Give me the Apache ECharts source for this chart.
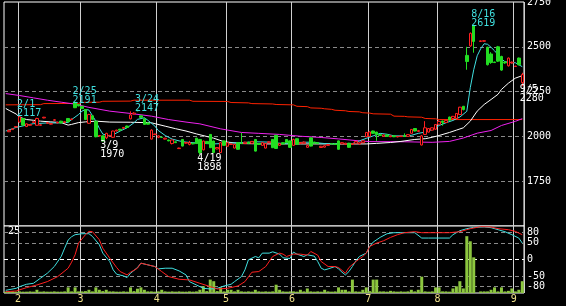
<!DOCTYPE html>
<html><head><meta charset="utf-8">
<script src="https://cdn.jsdelivr.net/npm/echarts@6/dist/echarts.min.js"></script>
<style>html,body{margin:0;padding:0;background:#000;}#c{width:566px;height:306px;}</style>
</head><body><div id="c"></div>
<script>
// ---------- DATA ----------
const dates = [
'1/26','1/27','1/28','1/31',
'2/1','2/2','2/3','2/4','2/7','2/8','2/9','2/10','2/14','2/15','2/16','2/17','2/18','2/21','2/22','2/24','2/25','2/28',
'3/1','3/2','3/3','3/4','3/7','3/8','3/9','3/10','3/11','3/14','3/15','3/16','3/17','3/18','3/22','3/23','3/24','3/25','3/28','3/29','3/30','3/31',
'4/1','4/4','4/5','4/6','4/7','4/8','4/11','4/12','4/13','4/14','4/15','4/18','4/19','4/20','4/21','4/22','4/25','4/26','4/27','4/28',
'5/2','5/6','5/9','5/10','5/11','5/12','5/13','5/16','5/17','5/18','5/19','5/20','5/23','5/24','5/25','5/26','5/27','5/30','5/31',
'6/1','6/2','6/3','6/6','6/7','6/8','6/9','6/10','6/13','6/14','6/15','6/16','6/17','6/20','6/21','6/22','6/23','6/24','6/27','6/28','6/29','6/30',
'7/1','7/4','7/5','7/6','7/7','7/8','7/11','7/12','7/13','7/14','7/15','7/19','7/20','7/21','7/22','7/25','7/26','7/27','7/28','7/29',
'8/1','8/2','8/3','8/4','8/5','8/8','8/9','8/10','8/12','8/15','8/16','8/17','8/18','8/19','8/22','8/23','8/24','8/25','8/26','8/29','8/30','8/31',
'9/1','9/2','9/5'];

// [open, close, low, high]
const candles = [
// Jan
['-','-','-','-'],[2026,2034,2024,2037],[2038,2042,2036,2044],[2052,2055,2050,2057],
// Feb
[2080,2110,2078,2117],[2100,2063,2060,2102],[2055,2070,2052,2072],[2062,2066,2060,2068],[2078,2082,2076,2084],[2062,2100,2060,2104],[2062,2065,2060,2067],[2103,2107,2101,2109],[2073,2077,2071,2079],[2068,2072,2066,2074],[2090,2093,2087,2097],[2075,2079,2073,2081],[2085,2075,2073,2087],[2078,2082,2076,2084],[2100,2082,2080,2102],[2094,2097,2090,2100],[2190,2160,2158,2191],[2178,2170,2168,2180],
// Mar
[2168,2155,2153,2170],[2150,2094,2092,2152],[2073,2122,2070,2126],[2115,2095,2093,2117],[2085,1998,1995,2088],[2002,2005,2000,2007],[2003,1975,1970,2005],[1992,2017,1985,2020],[2003,2006,2001,2008],[1995,2030,1992,2032],[2030,2035,2028,2037],[2040,2035,2033,2042],[2045,2050,2043,2052],[2058,2050,2048,2060],[2098,2120,2095,2140],[2125,2130,2123,2135],[2146,2143,2140,2147],[2115,2105,2103,2117],[2098,2067,2065,2100],[2075,2068,2066,2077],[1985,2035,1983,2040],[2010,2013,2008,2015],
// Apr
[1995,2003,1990,2006],[1996,1994,1992,1998],[1985,1990,1983,1992],[1980,1975,1973,1982],[1960,1980,1955,1982],[1970,1965,1963,1972],[1932,1935,1930,1937],[1983,1946,1944,1985],[1962,1966,1960,1968],[1955,1965,1950,1975],[1962,1958,1956,1964],[1990,1960,1958,1992],[1983,1910,1898,1985],[1925,1974,1922,1976],[1972,1960,1958,1974],[2011,1937,1935,2013],[1974,1910,1908,1976],[1930,1938,1928,1940],[1910,1965,1908,1967],[1975,1950,1948,1977],
// May
[1945,1965,1943,1967],[1955,1958,1953,1960],[1935,1955,1933,1957],[1965,1928,1926,1967],[1962,1960,1958,2020],[1960,1968,1958,1970],[1968,1960,1958,1970],[1962,1972,1960,1974],[1983,1918,1916,1985],[1960,1955,1953,1962],[1950,1965,1948,1967],[1935,1960,1933,1962],[1965,1970,1963,1972],[1983,1937,1935,1985],[2006,1933,1930,2008],[1950,1960,1948,1962],[1965,1958,1956,1967],[1983,1965,1963,1985],[1975,1939,1937,1977],
// Jun
[1950,1983,1948,1987],[1987,1956,1954,1989],[1960,1966,1958,1968],[1962,1968,1958,1972],[1939,1950,1937,1952],[1992,1946,1944,1994],[1968,1962,1960,1970],[1965,1960,1958,1967],[1938,1945,1936,1947],[1940,1948,1938,1950],[1950,1955,1948,1957],[1960,1958,1956,1962],[1958,1955,1953,1960],[1975,1928,1926,1977],[1958,1965,1956,1967],[1955,1962,1953,1964],[1962,1939,1937,1964],[1955,1960,1953,1962],[1962,1972,1960,1974],[1958,1965,1956,1967],[1965,1975,1963,1977],[1998,2022,1996,2024],
// Jul
[2000,2025,1998,2027],[2030,2017,2015,2032],[2024,2011,1975,2026],[2010,2005,2003,2012],[2000,2008,1998,2010],[2008,2000,1998,2010],[1998,2003,1996,2005],[2003,1998,1996,2005],[1997,2000,1995,2002],[1999,2002,1997,2004],[2003,2000,1998,2017],[2000,2010,1998,2012],[2017,2039,2015,2041],[2044,2030,2028,2046],[2028,2032,2026,2036],[1952,2003,1950,2008],[2011,2048,2009,2085],[2024,2044,2022,2046],[2035,2048,2033,2050],[2040,2066,2038,2068],
// Aug
[2068,2084,2066,2090],[2086,2078,2060,2088],[2078,2089,2076,2091],[2108,2090,2088,2110],[2100,2112,2098,2114],[2100,2128,2098,2130],[2122,2163,2120,2165],[2168,2150,2145,2170],[2452,2418,2372,2500],[2505,2575,2500,2580],[2619,2530,2467,2619],['-','-','-','-'],[2530,2533,2528,2535],[2531,2534,2529,2536],[2498,2400,2396,2500],[2460,2412,2405,2470],[2415,2412,2410,2417],[2500,2420,2415,2505],[2446,2370,2366,2450],[2415,2410,2405,2418],[2394,2437,2390,2440],[2410,2414,2406,2418],
// Sep
[2390,2392,2388,2394],[2437,2400,2396,2440],[2300,2345,2280,2355]
];

const volume = [
0.5,0.5,0.6,0.5,
0.6,0.5,0.5,0.6,0.5,1.2,0.5,0.6,0.5,0.5,0.6,0.5,0.5,0.6,2.1,0.6,2.1,0.6,
0.6,0.7,1.2,0.6,2.1,1.2,0.7,1.2,0.6,0.6,0.5,0.5,0.6,0.5,2.1,0.7,1.6,2.1,1.2,0.6,0.6,0.5,
0.6,1.2,0.6,0.5,0.6,0.5,0.6,0.5,0.5,0.6,0.5,0.6,1.2,2.5,0.7,5.0,4.4,0.7,2.1,0.6,
1.2,1.2,0.6,1.2,0.6,0.5,0.6,0.5,1.2,0.6,0.5,0.6,0.5,0.6,3.1,1.2,0.6,0.5,0.6,
0.6,0.5,1.2,0.6,1.7,0.6,0.5,0.6,0.5,1.2,0.6,0.5,0.6,2.1,1.2,1.2,0.6,5.0,0.6,0.5,1.2,2.1,
0.7,5.0,5.0,0.6,0.6,0.5,0.8,0.6,0.5,0.6,0.5,0.6,1.2,0.6,1.2,6.1,0.6,0.5,0.6,2.1,
2.1,0.6,0.6,0.5,1.7,2.5,4.4,1.7,21.2,19.3,13.3,0,0.6,0.6,0.6,1.2,2.1,0.6,2.1,0.6,0.8,1.7,
0.6,1.2,4.4
];

// moving averages: [dayIndex, price]
const maCyan = [[0,2030],[3,2050],[6,2063],[8,2071],[12,2075],[15,2075],[18,2078],[19,2094],[21,2122],[22,2141],[23,2150],[24,2147],[25,2116],[26,2085],[27,2045],[28,2013],[30,2002],[31,2009],[33,2030],[35,2048],[37,2076],[38,2095],[40,2104],[41,2090],[43,2058],[44,2033],[46,2005],[48,1985],[50,1975],[52,1968],[56,1962],[60,1958],[64,1962],[68,1965],[72,1970],[76,1968],[80,1960],[84,1966],[88,1968],[92,1960],[96,1958],[100,1960],[102,1975],[104,1989],[106,2003],[108,2017],[110,2012],[112,2003],[115,2003],[117,2006],[119,2017],[121,2024],[122,2030],[124,2048],[125,2061],[127,2076],[129,2089],[131,2108],[133,2140],[134,2272],[135,2372],[136,2450],[137,2489],[138,2517],[139,2514],[140,2497],[141,2478],[142,2456],[143,2433],[144,2417],[146,2411],[147,2411],[148,2400],[149,2389]];
const maWhite = [[0,2156],[1,2145],[3,2125],[4,2107],[6,2094],[8,2090],[10,2085],[13,2081],[16,2077],[18,2063],[19,2067],[21,2077],[23,2081],[26,2085],[30,2080],[36,2079],[42,2076],[46,2057],[49,2043],[52,2030],[55,2014],[60,1990],[63,1970],[68,1960],[75,1958],[85,1958],[95,1958],[104,1958],[107,1961],[111,1966],[114,1972],[118,1983],[121,1987],[123,1995],[125,2005],[128,2022],[130,2035],[132,2048],[134,2085],[136,2141],[138,2178],[140,2206],[142,2235],[143,2262],[145,2297],[147,2325],[149,2339]];
const maMagenta = [[0,2239],[4,2228],[8,2215],[12,2202],[16,2191],[20,2180],[24,2162],[30,2141],[36,2128],[42,2113],[47,2094],[52,2080],[56,2070],[62,2042],[68,2022],[73,2017],[79,2011],[85,2001],[91,1994],[96,1986],[102,1975],[105,1971],[115,1970],[123,1967],[128,1972],[132,1991],[136,2018],[140,2033],[143,2061],[147,2084],[149,2099]];
const maRed = [[0,2176],[10,2177],[11,2183],[21,2184],[22,2190],[27,2191],[28,2196],[36,2197],[37,2202],[53,2202],[54,2196],[64,2195],[65,2189],[70,2187],[71,2183],[77,2181],[78,2178],[83,2176],[84,2168],[87,2166],[88,2159],[91,2157],[92,2154],[94,2151],[95,2146],[98,2143],[99,2139],[102,2137],[103,2132],[105,2130],[106,2126],[111,2124],[112,2113],[115,2112],[116,2109],[120,2107],[121,2100],[124,2098],[125,2094],[149,2094]];

// oscillator lines in lower panel: [dayIndex, value]
const oscCyan = [[0,-92],[3,-86],[4,-81],[6,-74],[8,-71],[10,-56],[12,-41],[14,-21],[16,9],[17,34],[18,58],[19,68],[20,74],[22,77],[24,77],[25,69],[27,44],[28,19],[30,-6],[31,-31],[32,-44],[34,-49],[35,-54],[36,-41],[38,-24],[39,-11],[41,-16],[43,-21],[44,-28],[46,-26],[48,-26],[50,-34],[52,-46],[53,-66],[55,-76],[57,-86],[59,-88],[61,-86],[63,-79],[65,-74],[66,-66],[68,-51],[69,-31],[70,-1],[72,9],[73,5],[74,19],[76,19],[77,23],[79,16],[80,5],[82,3],[83,22],[84,16],[86,9],[87,14],[89,10],[90,-6],[91,-26],[92,-31],[93,-28],[95,-21],[96,-28],[97,-38],[98,-46],[99,-36],[100,-21],[101,-4],[102,9],[104,19],[105,39],[106,52],[108,66],[110,77],[112,80],[115,80],[118,80],[120,64],[122,64],[125,64],[128,64],[129,74],[131,86],[133,92],[135,96],[138,97],[140,95],[142,89],[144,83],[146,74],[148,64],[149,49]];
const oscRed = [[0,-96],[3,-94],[6,-84],[9,-76],[12,-66],[15,-51],[18,-26],[19,-8],[20,14],[21,49],[23,74],[24,84],[25,83],[27,59],[28,34],[30,4],[32,-24],[33,-36],[35,-46],[36,-38],[38,-26],[39,-11],[41,-16],[43,-21],[45,-36],[47,-51],[50,-59],[53,-61],[56,-71],[59,-81],[61,-88],[64,-86],[67,-79],[69,-66],[71,-38],[73,-36],[75,-21],[77,9],[79,19],[80,16],[81,9],[83,16],[85,16],[87,13],[88,24],[90,13],[91,-6],[93,-21],[95,-21],[96,-24],[98,-41],[99,-24],[101,-6],[103,9],[104,19],[105,39],[107,49],[109,56],[111,66],[113,74],[115,80],[118,83],[120,80],[124,80],[128,80],[131,83],[134,92],[137,98],[140,97],[142,92],[145,89],[147,84],[149,74]];

// axis / tick labels
const priceTicks = [1750, 2000, 2250, 2500, 2750];
const priceMin = 1500, priceMax = 2750, priceStep = 250;
const oscLevels = [80, 50, 0, -50, -80];
const volumeTopLabel = 25;

// annotations
const highMarks = [['2/1', 2117], ['2/25', 2191], ['3/24', 2147], ['8/16', 2619]];
const lowMarks = [['3/9', 1970], ['4/19', 1898], ['9/5', 2280]];

// ---------- STYLE ----------
const MONO = '"DejaVu Sans Mono", "Liberation Mono", monospace';
const C_RED = '#ff2020', C_GREEN = '#22dd22', C_CYAN = '#40e0e0', C_MAG = '#ee22ee',
      C_MARED = '#ff2200', C_VOL = '#8cc63f', C_GRID = '#8a8a8a', C_MONTH = '#cfcfcf', C_MLABEL = '#f0e08a';

const monthOf = d => d.split('/')[0];
const monthStart = dates.map((d, i) => i > 0 && monthOf(d) !== monthOf(dates[i - 1]));

function xAxisCfg(gridIndex, showLabels) {
  return {
    type: 'category', gridIndex: gridIndex, data: dates, boundaryGap: true,
    axisLine: {show: false}, axisTick: {show: false},
    axisLabel: showLabels ? {
      show: true, interval: (i) => monthStart[i], margin: 1,
      formatter: (v) => '{m|' + monthOf(v) + '}',
      rich: {m: {color: C_MLABEL, fontFamily: MONO, fontSize: 10, padding: [0, 3, 0, 0]}}
    } : {show: false},
    splitLine: {show: true, interval: (i) => monthStart[i], lineStyle: {color: C_MONTH, width: 1}}
  };
}

function lineSeries(data, color, xi, yi, z) {
  return {type: 'line', xAxisIndex: xi, yAxisIndex: yi, data: data, symbol: 'none', showSymbol: false,
    lineStyle: {color: color, width: 1}, itemStyle: {color: color}, z: z || 2, silent: true};
}

const markData = highMarks.map(([d, v]) => ({
  coord: [d, v], value: v,
  label: {formatter: d + '\n' + v, color: C_CYAN, position: [-2, 3], align: 'left', verticalAlign: 'bottom'}
})).concat(lowMarks.map(([d, v]) => ({
  coord: [d, v], value: v,
  label: {formatter: d + '\n' + v, color: '#ffffff', position: [-2, -0.5], align: 'left', verticalAlign: 'top'}
})));

const option = {
  backgroundColor: '#000',
  animation: false,
  grid: [
    {left: 4, top: 2, width: 520, height: 224, show: true, borderColor: '#fff', borderWidth: 1, backgroundColor: '#000', containLabel: false, outerBoundsMode: 'none'},
    {left: 4, top: 226, width: 520, height: 67, show: true, borderColor: '#fff', borderWidth: 1, backgroundColor: '#000', containLabel: false, outerBoundsMode: 'none'}
  ],
  xAxis: [xAxisCfg(0, false), xAxisCfg(1, true)],
  yAxis: [
    {type: 'value', gridIndex: 0, position: 'right', min: priceMin, max: priceMax, interval: priceStep,
     axisLine: {show: false}, axisTick: {show: false},
     axisLabel: {show: true, color: '#fff', fontFamily: MONO, fontSize: 10, margin: 3, padding: [3, 0, 0, 0],
       showMinLabel: true, showMaxLabel: true,
       formatter: v => priceTicks.indexOf(v) >= 0 ? String(v) : ''},
     splitLine: {show: true, showMinLine: false, showMaxLine: false, lineStyle: {color: C_GRID, type: [4, 3], width: 1}}},
    {type: 'value', gridIndex: 1, min: -100, max: 100, show: false},
    {type: 'value', gridIndex: 1, position: 'left', min: 0, max: volumeTopLabel, interval: volumeTopLabel,
     axisLine: {show: false}, axisTick: {show: false}, splitLine: {show: false},
     axisLabel: {show: true, inside: true, color: '#fff', fontFamily: MONO, fontSize: 10, margin: 4,
       verticalAlign: 'top', showMinLabel: true, showMaxLabel: true,
       formatter: v => v === volumeTopLabel ? String(volumeTopLabel) : ''}}
  ],
  series: [
    {type: 'bar', xAxisIndex: 1, yAxisIndex: 2, data: volume, barWidth: 3, itemStyle: {color: C_VOL}, z: 1, silent: true},
    Object.assign(lineSeries(oscCyan, C_CYAN, 1, 1, 3), {
      markLine: {silent: true, z: 1, symbol: ['none', 'none'], animation: false,
        label: {show: true, position: 'end', distance: 3, color: '#fff', fontFamily: MONO, fontSize: 10, formatter: '{c}'},
        data: oscLevels.map(v => ({yAxis: v, lineStyle: {color: v === 0 ? '#ffffff' : C_GRID, type: [4, 3], width: 1}}))}
    }),
    lineSeries(oscRed, C_RED, 1, 1, 3),
    lineSeries(maRed, C_MARED, 0, 0, 2),
    lineSeries(maMagenta, C_MAG, 0, 0, 2),
    lineSeries(maWhite, '#ffffff', 0, 0, 2),
    lineSeries(maCyan, C_CYAN, 0, 0, 2),
    {type: 'candlestick', xAxisIndex: 0, yAxisIndex: 0, data: candles, barWidth: 3, z: 3, silent: true,
     itemStyle: {color: '#000', color0: C_GREEN, borderColor: C_RED, borderColor0: C_GREEN, borderWidth: 1},
     markPoint: {symbol: 'rect', symbolSize: 1, itemStyle: {color: 'rgba(0,0,0,0)'}, animation: false, silent: true,
       label: {show: true, fontFamily: MONO, fontSize: 10, lineHeight: 9},
       data: markData}}
  ]
};

const chart = echarts.init(document.getElementById('c'));
chart.setOption(option);
</script>
</body></html>
